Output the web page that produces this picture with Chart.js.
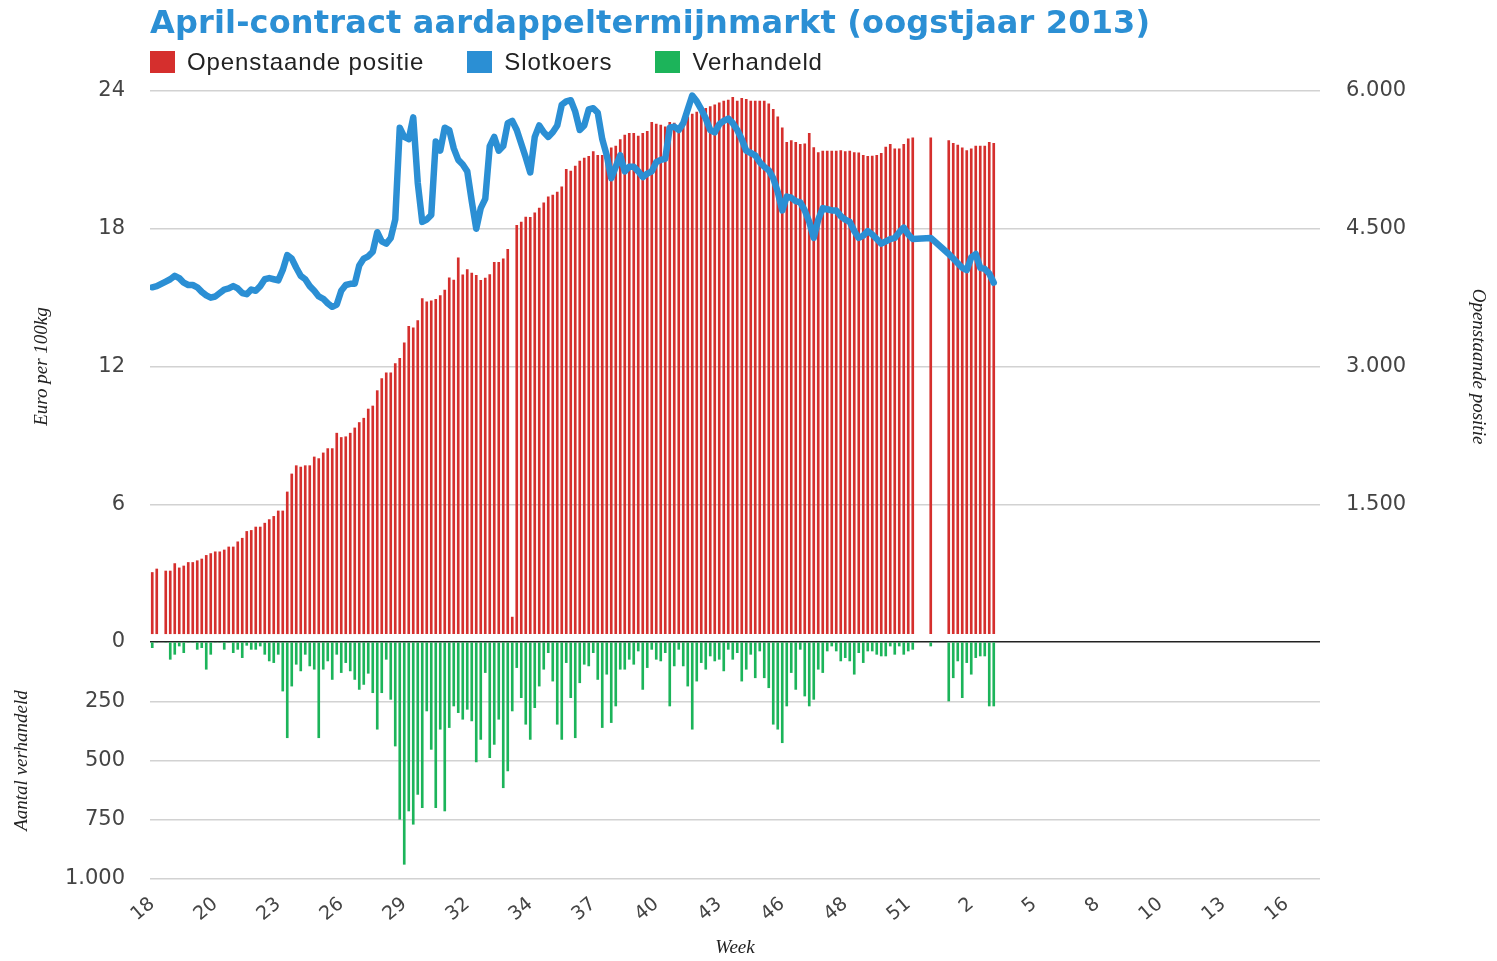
<!DOCTYPE html>
<html lang="nl">
<head>
<meta charset="utf-8">
<title>April-contract aardappeltermijnmarkt</title>
<script src="https://cdn.jsdelivr.net/npm/chart.js@4.4.1/dist/chart.umd.min.js"></script>
<style>
  html, body { margin: 0; padding: 0; background: #fff; }
  #wrap { position: relative; width: 1497px; height: 961px; overflow: hidden; }
  #grafiek { position: absolute; left: 0; top: 0; }
  h1 {
    position: absolute; left: 150px; top: 6px; margin: 0;
    font: bold 32px 'DejaVu Sans', Verdana, sans-serif; line-height: 32px;
    letter-spacing: 0.15px; color: #2b8fd4; white-space: nowrap;
  }
  #legenda {
    position: absolute; left: 150px; top: 51px; margin: 0; padding: 0;
    list-style: none; display: flex;
    font: 24px 'Liberation Sans', Arial, sans-serif; letter-spacing: 0.9px; color: #222;
  }
  #legenda li { display: flex; align-items: center; height: 22px; margin-right: 43px; }
  #legenda .blok { display: inline-block; width: 25px; height: 22px; margin-right: 12px; }
</style>
</head>
<body>
<div id="wrap">
  <canvas id="grafiek" width="1497" height="961"></canvas>
  <h1>April-contract aardappeltermijnmarkt (oogstjaar 2013)</h1>
  <ul id="legenda"></ul>
</div>
<script>
// --- 1. DATA (één waarde per handelsdag, null = geen handel) ---
const weekLabels = ['18', '20', '23', '26', '29', '32', '34', '37', '40', '43', '46', '48', '51', '2', '5', '8', '10', '13', '16'];

const openstaandePositie = [
  757, 795, null, 773, 773, 854, 807, 828, 866, 866,
  885, 904, 943, 963, 982, 982, 1002, 1035, 1035, 1091,
  1130, 1204, 1215, 1252, 1252, 1294, 1333, 1368, 1427, 1427,
  1634, 1830, 1920, 1905, 1920, 1920, 2015, 1997, 2059, 2106,
  2106, 2274, 2227, 2235, 2274, 2331, 2390, 2437, 2537, 2570,
  2737, 2868, 2930, 2930, 3032, 3090, 3257, 3437, 3420, 3499,
  3740, 3703, 3714, 3732, 3771, 3833, 3965, 3942, 4183, 3997,
  4056, 4017, 3993, 3938, 3962, 4001, 4133, 4133, 4172, 4277,
  271, 4537, 4573, 4627, 4623, 4673, 4724, 4782, 4848, 4868,
  4899, 4957, 5148, 5128, 5183, 5237, 5269, 5288, 5340, 5300,
  5300, 5360, 5380, 5400, 5470, 5520, 5540, 5540, 5510, 5540,
  5560, 5660, 5640, 5630, 5610, 5660, 5650, 5620, 5680, 5720,
  5750, 5770, 5790, 5810, 5830, 5850, 5870, 5890, 5900, 5930,
  5890, 5920, 5910, 5890, 5890, 5890, 5890, 5860, 5800, 5720,
  5600, 5440, 5460, 5440, 5420, 5425, 5540, 5385, 5330, 5346,
  5346, 5346, 5346, 5350, 5340, 5346, 5330, 5326, 5300, 5288,
  5290, 5300, 5320, 5390, 5420, 5370, 5370, 5420, 5480, 5490,
  null, null, null, 5490, null, null, null, 5460, 5430, 5410,
  5380, 5350, 5370, 5400, 5400, 5400, 5440, 5430
];

const slotkoers = [
  15.45, 15.5, null, 15.7, 15.8, 15.95, 15.85, 15.65, 15.55, 15.55,
  15.45, 15.25, 15.1, 15.0, 15.05, 15.2, 15.35, 15.4, 15.5, 15.4,
  15.2, 15.15, 15.35, 15.3, 15.5, 15.8, 15.85, 15.8, 15.75, 16.2,
  16.85, 16.7, 16.3, 15.95, 15.8, 15.5, 15.3, 15.05, 14.95, 14.75,
  14.6, 14.7, 15.3, 15.55, 15.6, 15.6, 16.4, 16.7, 16.8, 17.0,
  17.85, 17.45, 17.35, 17.6, 18.4, 22.4, 22.0, 21.9, 22.85, 20.0,
  18.3, 18.4, 18.6, 21.8, 21.4, 22.4, 22.3, 21.5, 21.0, 20.8,
  20.5, 19.2, 18.0, 18.9, 19.3, 21.6, 22.0, 21.4, 21.6, 22.6,
  22.7, 22.3, 21.7, 21.1, 20.45, 22.0, 22.5, 22.2, 22.0, 22.2,
  22.5, 23.4, 23.55, 23.6, 23.1, 22.3, 22.5, 23.2, 23.25, 23.05,
  21.9, 21.2, 20.2, 20.7, 21.2, 20.5, 20.7, 20.7, 20.5, 20.25,
  20.4, 20.5, 20.9, 21.0, 21.05, 22.4, 22.45, 22.3, 22.6, 23.2,
  23.8, 23.55, 23.2, 22.8, 22.3, 22.2, 22.55, 22.7, 22.8, 22.6,
  22.3, 21.9, 21.4, 21.3, 21.2, 20.9, 20.7, 20.55, 20.2, 19.6,
  18.8, 19.4, 19.35, 19.2, 19.15, 18.8, 18.3, 17.6, 18.4, 18.9,
  18.85, 18.8, 18.8, 18.55, 18.4, 18.3, 17.9, 17.6, 17.7, 17.9,
  17.75, 17.55, 17.35, 17.45, 17.55, 17.6, 17.85, 18.05, 17.75, 17.55,
  null, null, null, 17.6, null, null, null, 16.9, 16.7, 16.5,
  16.3, 16.2, 16.75, 16.9, 16.3, 16.25, 16.05, 15.65
];

const verhandeld = [
  24, 0, null, 0, 73, 52, 17, 45, 0, 0,
  31, 24, 115, 52, 0, 0, 31, 0, 45, 31,
  66, 14, 31, 31, 17, 52, 80, 87, 52, 207,
  404, 186, 94, 122, 52, 101, 115, 404, 115, 80,
  158, 52, 129, 87, 122, 158, 200, 179, 132, 214,
  368, 214, 73, 242, 439, 748, 938, 713, 769, 643,
  699, 291, 453, 699, 368, 713, 361, 270, 298, 326,
  284, 333, 506, 411, 129, 488, 432, 326, 615, 544,
  291, 108, 235, 347, 411, 277, 186, 115, 45, 165,
  347, 411, 87, 235, 404, 172, 94, 101, 45, 158,
  361, 136, 340, 270, 115, 115, 73, 94, 38, 200,
  108, 31, 73, 80, 45, 270, 101, 31, 101, 186,
  368, 165, 87, 115, 59, 80, 73, 122, 31, 73,
  45, 165, 115, 52, 151, 38, 151, 193, 347, 368,
  425, 270, 129, 200, 31, 228, 270, 242, 115, 129,
  38, 17, 38, 80, 66, 80, 136, 45, 87, 38,
  38, 52, 59, 59, 17, 52, 17, 52, 38, 31,
  null, null, null, 17, null, null, null, 249, 151, 80,
  235, 87, 136, 66, 59, 59, 270, 270
];

const ROOD = '#d52f2d';
const BLAUW = '#2b8fd4';
const GROEN = '#1cb45a';

// --- 2. HULPFUNCTIES ---
const handelsdagen = openstaandePositie.map((_, i) => i);

function metPunt(v) {
  if (v < 1000) return String(v);
  return Math.floor(v / 1000) + '.' + String(v % 1000).padStart(3, '0');
}

const tickFont = { family: "'DejaVu Sans', sans-serif", size: 21 };
const titelFont = { family: "'Liberation Serif', serif", size: 19, style: 'italic' };

// legenda als html, in de volgorde van de datasets
const htmlLegenda = {
  id: 'htmlLegenda',
  afterUpdate(chart) {
    const ul = document.getElementById('legenda');
    ul.innerHTML = '';
    const items = chart.options.plugins.legend.labels.generateLabels(chart)
      .sort((a, b) => a.datasetIndex - b.datasetIndex);
    items.forEach(item => {
      const li = document.createElement('li');
      const blok = document.createElement('span');
      blok.className = 'blok';
      blok.style.background = item.fillStyle;
      const tekst = document.createElement('span');
      tekst.textContent = item.text;
      li.append(blok, tekst);
      ul.appendChild(li);
    });
  }
};

// --- 3. GRAFIEK ---
const ctx = document.getElementById('grafiek').getContext('2d');

new Chart(ctx, {
  type: 'bar',
  data: {
    labels: handelsdagen,
    datasets: [
      {
        label: 'Openstaande positie',
        data: openstaandePositie,
        backgroundColor: ROOD,
        yAxisID: 'y1',
        base: 90, // staafjes beginnen net boven de nullijn
        barThickness: 2,
        grouped: false,
        order: 2
      },
      {
        type: 'line',
        label: 'Slotkoers',
        data: slotkoers,
        borderColor: BLAUW,
        backgroundColor: BLAUW,
        borderWidth: 6.5,
        pointRadius: 0,
        tension: 0,
        spanGaps: true,
        borderJoinStyle: 'round',
        borderCapStyle: 'round',
        yAxisID: 'y',
        order: 0
      },
      {
        label: 'Verhandeld',
        data: verhandeld,
        backgroundColor: GROEN,
        yAxisID: 'yv',
        barThickness: 2,
        grouped: false,
        order: 1
      }
    ]
  },
  plugins: [htmlLegenda],
  options: {
    responsive: false,
    animation: false,
    events: [],
    layout: { padding: { top: 91, left: 0, right: 0, bottom: 0 } },
    plugins: {
      legend: { display: false },
      tooltip: { enabled: false }
    },
    scales: {
      x: {
        type: 'linear',
        offset: false,
        min: -0.5,
        max: 259.5,
        grid: { display: false },
        border: { display: false },
        afterBuildTicks: s => { s.ticks = weekLabels.map((_, k) => ({ value: k * 14 })); },
        afterFit: s => { s.height = 82; },
        ticks: {
          autoSkip: false,
          minRotation: 40,
          maxRotation: 40,
          padding: 6,
          color: '#444',
          font: { family: "'DejaVu Sans', sans-serif", size: 19 },
          callback: (v, i) => weekLabels[i]
        },
        title: { display: true, text: 'Week', color: '#222', font: titelFont, padding: { top: 0, bottom: 2 } }
      },
      // onderste deel links: aantal verhandeld (omgekeerd)
      yv: {
        position: 'left',
        stack: 'links',
        stackWeight: 237,
        reverse: true,
        min: 0,
        max: 1000,
        border: { display: false },
        grid: {
          drawTicks: false,
          lineWidth: 1.5,
          color: c => c.tick.value === 0 ? 'rgba(0,0,0,0)' : '#d2d2d2'
        },
        afterFit: s => { s.width = 150; },
        ticks: {
          stepSize: 250,
          padding: 25,
          color: '#444',
          font: tickFont,
          callback: v => v === 0 ? '' : metPunt(v)
        },
        title: { display: true, text: 'Aantal verhandeld', color: '#222', font: titelFont, padding: { top: 11, bottom: 0 } }
      },
      // bovenste deel links: koers
      y: {
        position: 'left',
        stack: 'links',
        stackWeight: 551,
        min: 0,
        max: 24,
        border: { display: false },
        grid: {
          drawTicks: false,
          lineWidth: 1.5,
          color: c => c.tick.value === 0 ? '#222' : '#d2d2d2'
        },
        afterFit: s => { s.width = 150; },
        ticks: { stepSize: 6, padding: 25, color: '#444', font: tickFont },
        title: { display: true, text: 'Euro per 100kg', color: '#222', font: titelFont, padding: { top: 31, bottom: 0 } }
      },
      // bovenste deel rechts: openstaande positie
      y1: {
        position: 'right',
        stack: 'rechts',
        stackWeight: 551,
        min: 0,
        max: 6000,
        border: { display: false },
        grid: { display: false, drawTicks: false },
        afterFit: s => { s.width = 177; },
        ticks: {
          stepSize: 1500,
          padding: 26,
          color: '#444',
          font: tickFont,
          callback: v => v === 0 ? '' : metPunt(v)
        },
        title: { display: true, text: 'Openstaande positie', color: '#222', font: titelFont, padding: { top: 8, bottom: 0 } }
      },
      // lege ruimte rechts naast het onderste deel
      yr: {
        position: 'right',
        stack: 'rechts',
        stackWeight: 237,
        border: { display: false },
        grid: { display: false },
        ticks: { display: false }
      }
    }
  }
});
</script>
</body>
</html>
